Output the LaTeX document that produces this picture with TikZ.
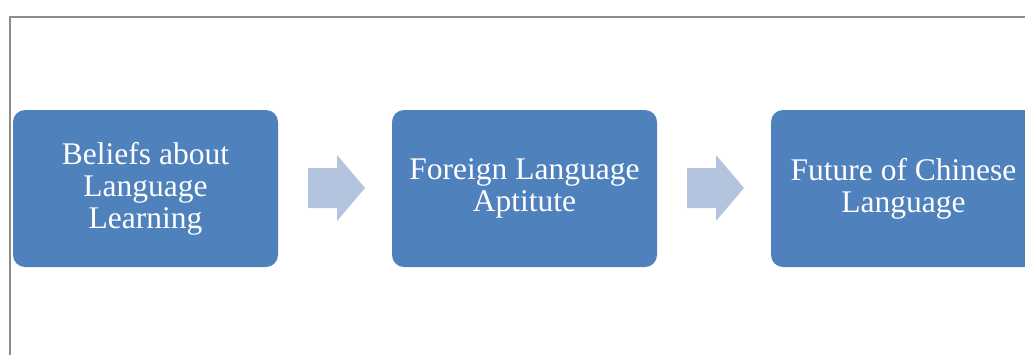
\documentclass[tikz,border=0pt]{standalone}
\usepackage{fontspec}
\setmainfont{Liberation Serif}
\begin{document}
\begin{tikzpicture}[x=1pt,y=-1pt,
  box/.style={fill=boxblue, rounded corners=12pt, minimum width=265pt, minimum height=157pt,
    inner sep=0pt, text=white, align=center, font=\fontsize{31.5}{32}\selectfont},
  arr/.style={fill=arrblue, draw=none}]
\definecolor{boxblue}{RGB}{79,129,189}
\definecolor{arrblue}{RGB}{180,195,222}
\useasboundingbox (0,0) rectangle (1025,354);
\draw[draw=gray!90, line width=2pt] (9.5,360) -- (9.5,16.5) -- (1030,16.5);
\node[box] (b1) at (145.5,188.5) {Beliefs about\\Language\\Learning};
\node[box] (b2) at (524.5,188.5) {Foreign Language\\Aptitute};
\node[box] (b3) at (903.5,188.5) {Future of Chinese\\Language};
\coordinate (a1) at (308,168);
\coordinate (a2) at (687,168);
\foreach \a in {a1,a2}{
  \fill[arr] (\a) -- ++(29,0) -- ++(0,-13) -- ++(28,33) -- ++(-28,33) -- ++(0,-13) -- ++(-29,0) -- cycle;
}
\end{tikzpicture}
\end{document}
